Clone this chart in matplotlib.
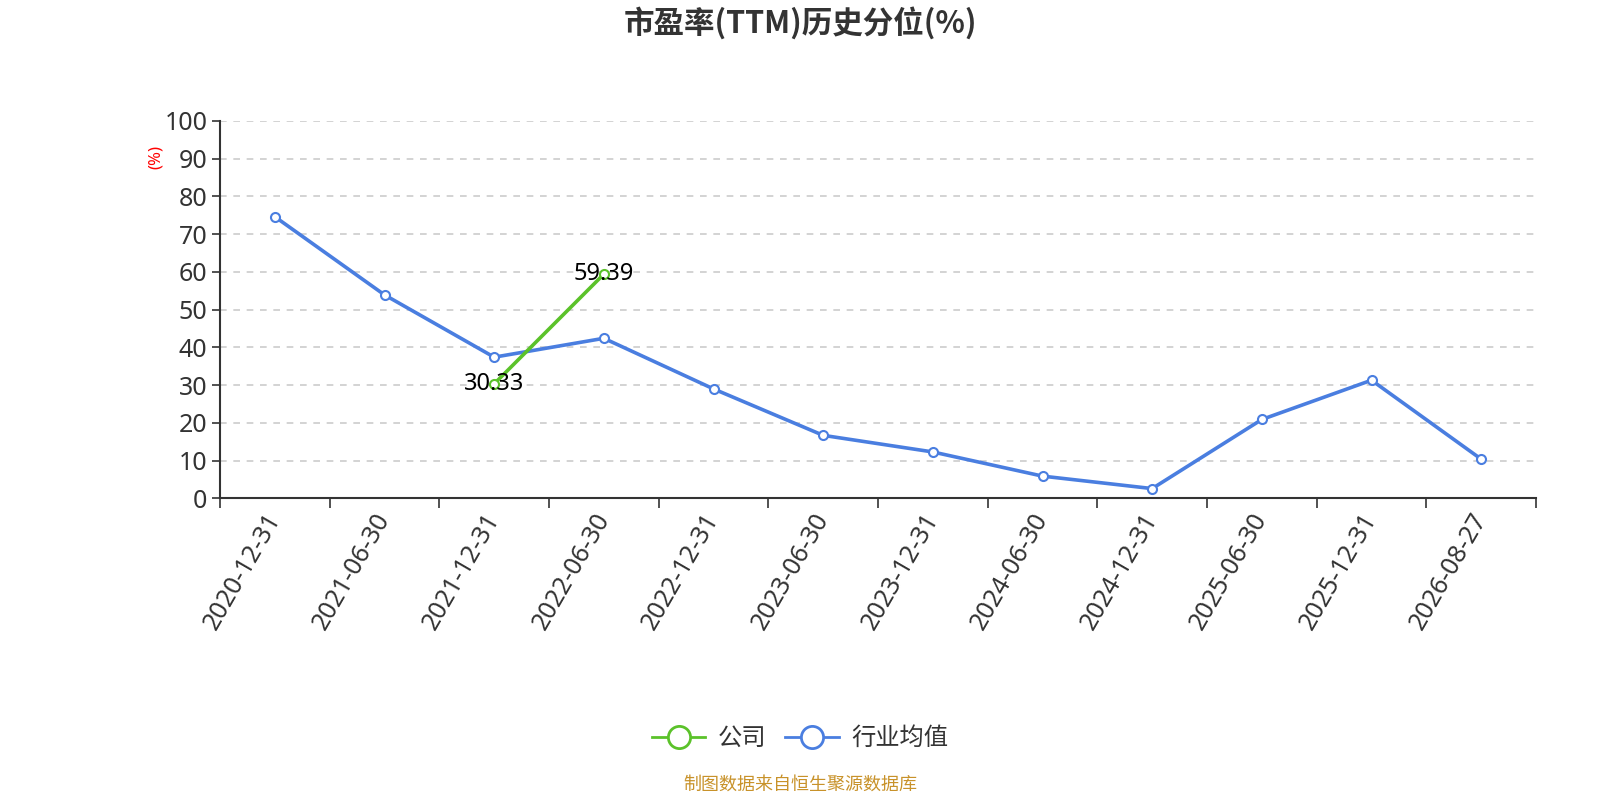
import matplotlib
matplotlib.use("Agg")
import matplotlib.pyplot as plt
from matplotlib.lines import Line2D
import numpy as np

plt.rcParams['font.family'] = ['Noto Sans', 'Noto Sans CJK SC', 'DejaVu Sans']

dates = ["2020-12-31", "2021-06-30", "2021-12-31", "2022-06-30", "2022-12-31", "2023-06-30",
         "2023-12-31", "2024-06-30", "2024-12-31", "2025-06-30", "2025-12-31", "2026-08-27"]
industry = [74.6, 53.9, 37.4, 42.4, 29.0, 16.7, 12.3, 5.9, 2.6, 20.9, 31.3, 10.4]
company_idx = [2, 3]
company = [30.33, 59.39]

blue = '#4a7ee0'
green = '#5bc22a'
txt = '#333333'

fig = plt.figure(figsize=(16, 8), dpi=100)
ax = fig.add_axes([0.1375, 0.377, 0.8225, 0.472])

x = np.arange(len(dates))
ax.plot(x, industry, color=blue, lw=2.6, marker='o', ms=6.5, mfc='white', mec=blue, mew=1.5, zorder=3)
ax.plot(company_idx, company, color=green, lw=2.6, marker='o', ms=6.5, mfc='white', mec=green, mew=1.5, zorder=4)
for i, v in zip(company_idx, company):
    ax.text(i, v, f"{v:.2f}", ha='center', va='center', fontsize=17, color='black', zorder=5)

ax.set_xlim(-0.5, len(dates) - 0.5)
ax.set_ylim(0, 100)
ax.set_yticks(np.arange(0, 101, 10))
ax.set_xticks(x)
ax.set_xticklabels(dates, rotation=60, ha='right', va='center', rotation_mode='anchor', fontsize=18, color=txt)
ax.set_xticks(np.arange(-0.5, len(dates), 1), minor=True)
ax.tick_params(axis='x', which='major', length=0, pad=12)
ax.tick_params(axis='x', which='minor', length=7, width=1.2, color=txt)
ax.tick_params(axis='y', length=6, width=1.2, color=txt, labelsize=18, labelcolor=txt, pad=3)

for s in ['top', 'right']:
    ax.spines[s].set_visible(False)
for s in ['left', 'bottom']:
    ax.spines[s].set_color(txt)
    ax.spines[s].set_linewidth(1.5)

for v in range(10, 101, 10):
    ax.axhline(v, color='#cccccc', lw=1.2, ls=(0, (4, 4)), zorder=1)

ax.text(-0.049, 0.905, "(%)", transform=ax.transAxes, rotation=90, color='red', fontsize=12,
        ha='center', va='center')

fig.text(0.5, 0.971, "市盈率(TTM)历史分位(%)", ha='center', va='center', fontsize=22,
         fontweight='bold', color=txt, family=['Noto Sans CJK SC', 'DejaVu Sans'])

handles = [Line2D([0], [0], color=green, lw=2, marker='o', ms=16, mfc='white', mec=green, mew=2),
           Line2D([0], [0], color=blue, lw=2, marker='o', ms=16, mfc='white', mec=blue, mew=2)]
leg = fig.legend(handles, ["公司", "行业均值"], loc='center', bbox_to_anchor=(0.5, 0.076), ncol=2,
                 frameon=False, fontsize=17.5, handlelength=2.2, columnspacing=0.8, handletextpad=0.5)
for t in leg.get_texts():
    t.set_color(txt)

fig.text(0.5, 0.008, "制图数据来自恒生聚源数据库", ha='center', va='bottom', fontsize=13, color='#c8922a')

fig.savefig("out.png", dpi=100, facecolor='white')
